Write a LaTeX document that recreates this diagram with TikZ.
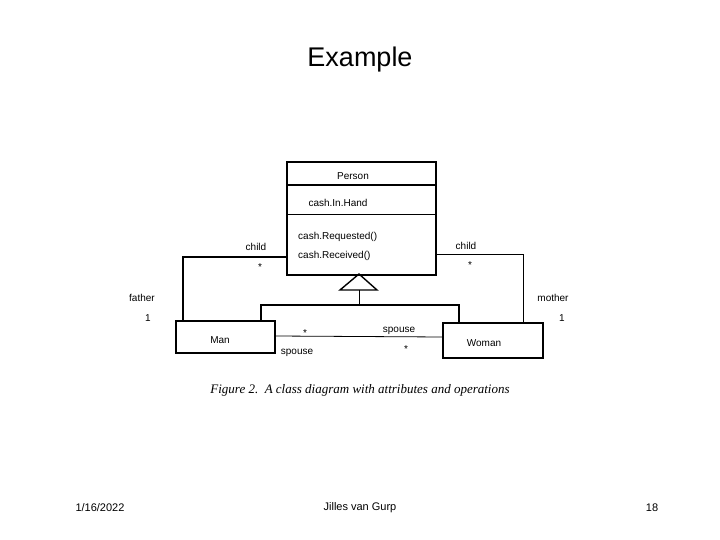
\documentclass[tikz,border=0pt]{standalone}
\usepackage{fontspec}
\setmainfont{Liberation Sans}
\newfontfamily\capfont{Liberation Serif}
\begin{document}
\begin{tikzpicture}[x=1pt,y=-1pt,
  lbl/.style={inner sep=0pt,font=\fontsize{10}{12}\selectfont},
  ln/.style={line width=1.4pt},
  thin/.style={line width=0.8pt}]
\useasboundingbox (0,0) rectangle (720,540);
% Person class
\node[draw,ln,minimum width=149pt,minimum height=113pt,inner sep=0pt] (person) at (361.5,218.5) {};
\draw[ln] (287,185) -- (436,185);
\draw[thin] (287,214) -- (436,214);
\node[lbl] (pn) at (353,176) {Person};
\node[lbl] (ch) at (338,203) {cash.In.Hand};
\node[lbl,anchor=west] (cr) at (298,237) {cash.Requested()};
\node[lbl,anchor=west] (cv) at (298,256) {cash.Received()};
% Man, Woman
\node[draw,ln,minimum width=99pt,minimum height=32pt,inner sep=0pt] (man) at (225.5,337) {};
\node[lbl] (mant) at (220,340) {Man};
\node[draw,ln,minimum width=100pt,minimum height=35pt,inner sep=0pt] (woman) at (493,340.5) {};
\node[lbl] (womant) at (484,343) {Woman};
% generalization
\coordinate (apex) at (359,274);
\coordinate (bl) at (340,290);
\coordinate (br) at (377,290);
\draw[ln] (apex) -- (br) -- (bl) -- cycle;
\coordinate (stem) at (359,290);
\coordinate (j) at (359,305);
\draw[thin] (stem) -- (j);
\draw[ln] (261,321) -- (261,305) -- (459,305) -- (459,323);
% child associations
\draw[ln] (person.west |- 0,257) -- (183,257) -- (183,321);
\draw[thin] (person.east |- 0,254) -- (523,254) -- (523,323);
% spouse
\draw[thin] (man.east |- 0,336) -- (woman.west |- 0,337);
% labels
\node[lbl] at (256,247) {child};
\node[lbl] at (260,267) {*};
\node[lbl] at (466,246) {child};
\node[lbl] at (470,265) {*};
\node[lbl] at (142,298) {father};
\node[lbl] at (148,318) {1};
\node[lbl] at (553,298) {mother};
\node[lbl] at (562,318) {1};
\node[lbl] at (305,333) {*};
\node[lbl] at (399,331) {spouse};
\node[lbl] at (297,353) {spouse};
\node[lbl] at (406,349) {*};
\node[inner sep=0pt,font=\capfont\itshape\fontsize{13}{15}\selectfont] at (360,390) {Figure 2.\ \ A class diagram with attributes and operations};
% title and footer
\node[inner sep=0pt,font=\fontsize{27}{30}\selectfont] at (360,60) {Example};
\node[inner sep=0pt,font=\fontsize{11}{13}\selectfont] at (100,508) {1/16/2022};
\node[inner sep=0pt,font=\fontsize{11}{13}\selectfont] at (360,508) {Jilles van Gurp};
\node[inner sep=0pt,font=\fontsize{11}{13}\selectfont] at (652,508) {18};
\end{tikzpicture}
\end{document}
